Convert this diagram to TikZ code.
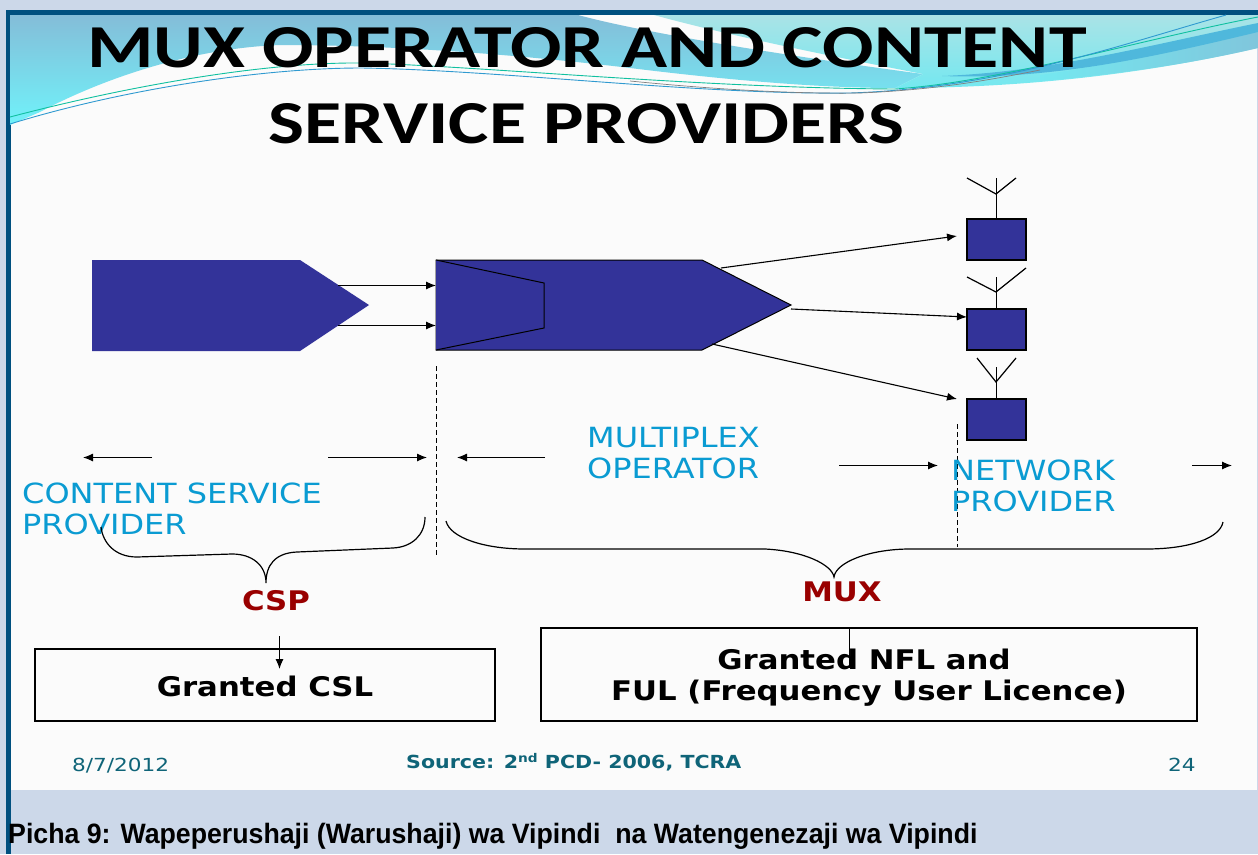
\documentclass[tikz,border=0pt]{standalone}
\usepackage{fontspec}
\setmainfont{DejaVu Sans}
\newfontfamily\titlefont[FakeStretch=1.247]{Carlito}
\newfontfamily\capfont[FakeStretch=0.954]{Liberation Sans}
\newfontfamily\widedv[FakeStretch=1.15]{DejaVu Sans}
\newfontfamily\widebf[FakeStretch=1.14]{DejaVu Sans}
\newfontfamily\datedv[FakeStretch=1.2]{DejaVu Sans}
\newfontfamily\srcdv[FakeStretch=1.143]{DejaVu Sans}
\usetikzlibrary{arrows.meta}
\definecolor{margin}{HTML}{CCD8E9}
\definecolor{framec}{HTML}{00507F}
\definecolor{paper}{HTML}{FBFBFB}
\definecolor{navy}{HTML}{333399}
\definecolor{sky}{HTML}{0A9BD2}
\definecolor{dred}{HTML}{990000}
\definecolor{teal2}{HTML}{0F6478}
\definecolor{swtop}{HTML}{84BDD8}
\definecolor{swbot}{HTML}{70F2FA}
\definecolor{rtop}{HTML}{AAE3E6}
\definecolor{rmid}{HTML}{8FD0EC}
\definecolor{rbot}{HTML}{74E8F0}
\definecolor{rdark}{HTML}{4FB8DC}
\definecolor{rfade}{HTML}{80C6DC}
\definecolor{lgreen}{HTML}{10C0A0}
\definecolor{lblue}{HTML}{2F9AD0}
\tikzset{
  x=1pt,y=-1pt,
  shapeb/.style={fill=navy,draw=black,line width=1pt},
  blockb/.style={shape=rectangle,fill=navy,draw=black,line width=1.2pt,minimum width=59pt,minimum height=41pt,inner sep=0pt},
  licence/.style={shape=rectangle,fill=none,draw=black,line width=1.3pt,inner sep=0pt},
  conn/.style={draw=black,line width=1.1pt,-{Latex[length=10pt,width=8pt]}},
  wire/.style={draw=black,line width=1.2pt},
  guide/.style={draw=black,line width=1.2pt,dash pattern=on 4.5pt off 3.5pt},
  lab/.style={anchor=base west,inner sep=0pt,text=sky,font=\widedv\fontsize{27.8}{31}\selectfont,align=left},
  boxt/.style={inner sep=0pt,font=\widebf\fontsize{27}{31}\selectfont\bfseries,align=center},
  redt/.style={inner sep=0pt,text=dred,font=\widebf\fontsize{27}{31}\selectfont\bfseries},
  foot/.style={anchor=base west,inner sep=0pt,text=teal2,font=\datedv\fontsize{18}{22}\selectfont},
  titlet/.style={anchor=base,inner sep=0pt,font=\titlefont\fontsize{61}{70}\selectfont\bfseries},
}
\begin{document}
\begin{tikzpicture}
\useasboundingbox (0,0) rectangle (1258,854);
% page and slide
\fill[margin] (0,0) rectangle (1258,854);
\fill[paper] (10,15) rectangle (1257,790);
\fill[framec] (6,10) rectangle (1258,15);
\fill[framec] (6,10) rectangle (10.5,854);
% header swoosh
\shade[top color=swtop,bottom color=swbot]
  (10,15) -- (578,15) .. controls (640,32) and (780,55) .. (923,74) -- (895,88)
  .. controls (840,88) and (760,84) .. (630,68)
  .. controls (530,56) and (400,45) .. (281,45) .. controls (190,48) and (100,80) .. (40,112) -- (10,125) -- cycle;
\shade[top color=rtop,middle color=rmid,bottom color=rbot]
  (654,15) -- (1258,15) -- (1258,48) .. controls (1170,68) and (1050,88) .. (895,88) -- (923,74)
  .. controls (840,58) and (730,36) .. (654,15) -- cycle;
\shade[left color=rbot,right color=rfade]
  (1040,75) .. controls (1130,62) and (1200,42) .. (1258,30) -- (1258,48) .. controls (1190,64) and (1120,74) .. (1040,81) -- cycle;
\fill[rdark] (942,76) .. controls (1050,72) and (1150,45) .. (1258,23) -- (1258,32)
  .. controls (1150,58) and (1050,80) .. (942,76) -- cycle;
\draw[lgreen,line width=.9pt] (10,117) .. controls (120,88) and (260,62) .. (361,63)
  .. controls (480,66) and (700,88) .. (895,89) .. controls (1000,82) and (1130,42) .. (1258,17);
\draw[lblue,line width=.9pt] (10,124) .. controls (120,90) and (260,68) .. (361,68)
  .. controls (500,70) and (700,95) .. (850,93) .. controls (1000,88) and (1120,45) .. (1226,15);
\draw[gray,line width=.7pt] (630,81) .. controls (720,90) and (800,94) .. (860,93) .. controls (930,90) and (980,82) .. (1040,70);
% title
\node[titlet] (t1) at (587,67) {MUX OPERATOR AND CONTENT};
\node[titlet] (t2) at (586.5,143) {SERVICE PROVIDERS};
% named points of the two arrow shapes
\coordinate (cspout1) at (338,285.5); \coordinate (cspout2) at (338,325.5);
\coordinate (muxin1) at (436,285.5);  \coordinate (muxin2) at (436,325.5);
\coordinate (muxo1) at (721,268);   \coordinate (muxo2) at (791,309); \coordinate (muxo3) at (712,344);
\fill[navy] (92,260) -- (300,260) -- (369,305) -- (300,351) -- (92,351) -- cycle;
\draw[shapeb] (436,260) -- (702,260) -- (791,305) -- (702,350) -- (436,350) -- cycle;
\draw[shapeb] (436,260) -- (544,283) -- (544,328) -- (436,350);
% transmitters
\node[blockb] (b1) at (996.5,239.5) {};
\node[blockb] (b2) at (996.5,329.5) {};
\node[blockb] (b3) at (996.5,419.5) {};
\coordinate (a1) at (996,194); \coordinate (a2) at (996,292); \coordinate (a3) at (996,382);
\draw[wire] (b1.north) -- (996.5,178); \draw[wire] (967,178) -- (a1) -- (1016,178);
\draw[wire] (b2.north) -- (996.5,277); \draw[wire] (967,277) -- (a2) -- (1026,268);
\draw[wire] (b3.north) -- (996.5,367); \draw[wire] (977,358) -- (a3) -- (1016,358);
% connectors
\draw[conn] (cspout1) -- (muxin1);
\draw[conn] (cspout2) -- (muxin2);
\coordinate (t1p) at (957,236); \coordinate (t2p) at (967,317); \coordinate (t3p) at (957,399);
\draw[conn] (muxo1) -- (t1p);
\draw[conn] (muxo2) -- (t2p);
\draw[conn] (muxo3) -- (t3p);
% dashed guides
\coordinate (d1a) at (436.5,366); \coordinate (d1b) at (436.5,555);
\coordinate (d2a) at (957.5,424); \coordinate (d2b) at (957.5,547);
\draw[guide] (d1a) -- (d1b);
\draw[guide] (d2a) -- (d2b);
% span arrows
\coordinate (s1) at (152,457.5); \coordinate (s2) at (83,457.5);
\coordinate (s3) at (328,457.5); \coordinate (s4) at (427,457.5);
\coordinate (s5) at (545,457.5); \coordinate (s6) at (457,457.5);
\coordinate (s7) at (839,465.5); \coordinate (s8) at (938,465.5);
\coordinate (s9) at (1192,465.5); \coordinate (s10) at (1232,465.5);
\draw[conn] (s1) -- (s2); \draw[conn] (s3) -- (s4); \draw[conn] (s5) -- (s6);
\draw[conn] (s7) -- (s8); \draw[conn] (s9) -- (s10);
% labels
\node[lab] (l1) at (22,534) {CONTENT SERVICE\\PROVIDER};
\node[lab] (l2) at (587,478) {MULTIPLEX\\OPERATOR};
\node[lab] (l3) at (951,511) {NETWORK\\PROVIDER};
% braces
\coordinate (cspl) at (101,527); \coordinate (cspr) at (425,517); \coordinate (cspt) at (266,583);
\coordinate (muxl) at (446,521); \coordinate (muxr) at (1223,522); \coordinate (muxt) at (834,577);
\draw[wire] (cspl) .. controls (103,543) and (115,557) .. (137,557) -- (232,554) .. controls (252,554) and (266,565) .. (cspt)
  .. controls (266,565) and (275,553) .. (297,552) -- (393,548) .. controls (412,547) and (425,535) .. (cspr);
\draw[wire] (muxl) .. controls (450,538) and (485,549) .. (525,549) -- (765,549) .. controls (805,551) and (832,565) .. (muxt)
  .. controls (836,562) and (870,549) .. (910,549) -- (1146,549) .. controls (1190,549) and (1220,538) .. (muxr);
% licences
\node[redt] (csp) at (276,601) {CSP};
\node[redt] (mux) at (842,592) {MUX};
\node[licence,minimum width=460pt,minimum height=72pt] (csl) at (265,685) {};
\node[licence,minimum width=656pt,minimum height=93pt] (nfl) at (869,674.5) {};
\node[boxt] (cslt) at (265,686) {Granted CSL};
\node[boxt] (nflt) at (869,678) {Granted NFL and\kern10pt\\FUL (Frequency User Licence)};
\coordinate (ca) at (279.5,636); \coordinate (cb) at (279.5,669);
\draw[conn] (ca) -- (cb);
\coordinate (na) at (849.5,628); \coordinate (nb) at (849.5,668);
\draw[wire] (na) -- (nb);
% footer
\node[foot] (date) at (72,771) {8/7/2012};
\node[foot,font=\srcdv\fontsize{18}{22}\selectfont\bfseries] (src) at (406,768) {Source: 2\raisebox{6pt}{\fontsize{12}{12}\selectfont nd} PCD- 2006, TCRA};
\node[foot] (page) at (1168,771) {24};
\node[anchor=base west,inner sep=0pt,font=\capfont\fontsize{28}{32}\selectfont\bfseries] (cap) at (8,843) {Picha 9: Wapeperushaji (Warushaji) wa Vipindi\ \ na Watengenezaji wa Vipindi};
\end{tikzpicture}
\end{document}
